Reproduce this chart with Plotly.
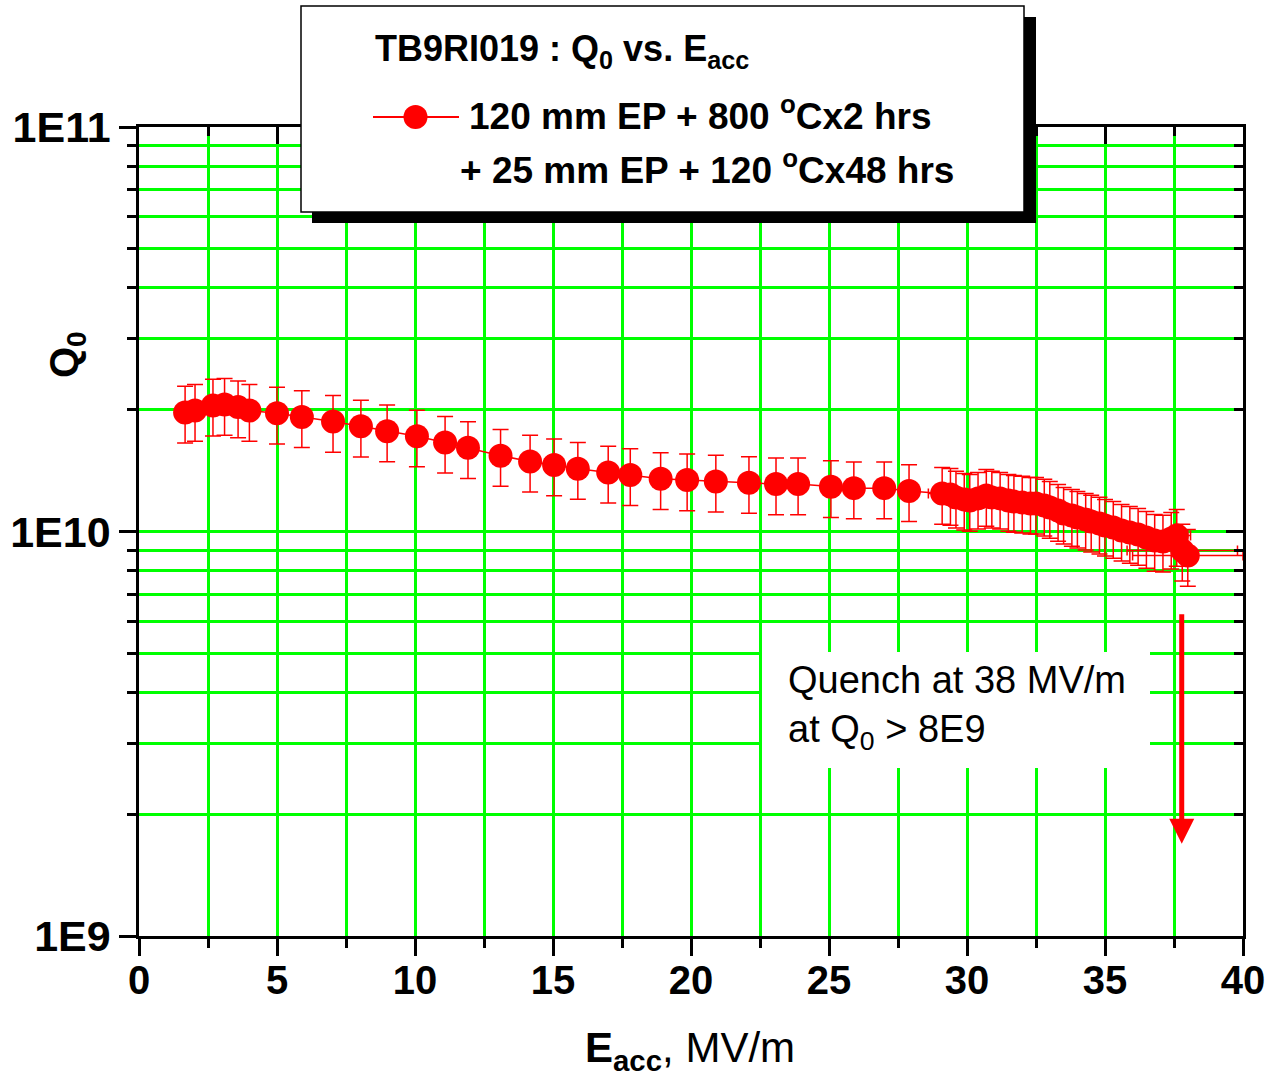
import math
import plotly.graph_objects as go

# ---- data ----
e_acc = [1.67, 2.03, 2.68, 3.10, 3.59, 4.00, 5.00, 5.90, 7.03, 8.04, 8.99, 10.07,
         11.09, 11.92, 13.10, 14.17, 15.04, 15.90, 17.00, 17.80, 18.90, 19.86,
         20.90, 22.10, 23.08, 23.88, 25.07, 25.90, 27.00, 27.90,
         29.1, 29.4, 29.6, 29.9, 30.1, 30.4, 30.7, 30.9, 31.2, 31.5, 31.7, 32.0,
         32.3, 32.5, 32.8, 33.0, 33.3, 33.5, 33.8, 34.0, 34.3, 34.5, 34.8, 35.0,
         35.3, 35.6, 35.9, 36.2, 36.5, 36.8, 37.1, 37.4, 37.6, 37.8, 38.0]
q0 = [1.97e10, 1.99e10, 2.05e10, 2.06e10, 2.03e10, 1.99e10, 1.96e10, 1.92e10,
      1.87e10, 1.82e10, 1.77e10, 1.72e10, 1.66e10, 1.61e10, 1.54e10, 1.49e10,
      1.46e10, 1.43e10, 1.40e10, 1.38e10, 1.35e10, 1.34e10, 1.33e10, 1.32e10,
      1.31e10, 1.31e10, 1.29e10, 1.28e10, 1.28e10, 1.26e10,
      1.241e10, 1.234e10, 1.214e10, 1.200e10, 1.193e10, 1.207e10, 1.227e10,
      1.214e10, 1.207e10, 1.193e10, 1.186e10, 1.180e10, 1.173e10, 1.173e10,
      1.160e10, 1.146e10, 1.127e10, 1.108e10, 1.095e10, 1.083e10, 1.071e10,
      1.059e10, 1.047e10, 1.035e10, 1.023e10, 1.006e10, 0.994e10, 0.983e10,
      0.966e10, 0.950e10, 0.945e10, 0.961e10, 0.977e10, 0.898e10, 0.872e10]
e_err = [0]*30 + [0.5]*33 + [2.0, 2.0]
q0_rel_err = 0.16

x_ticks = [0, 5, 10, 15, 20, 25, 30, 35, 40]
y_tickvals = [1e9, 1e10, 1e11]
y_ticktext = ["1E9", "1E10", "1E11"]
y_minor = [m * 10**d for d in (9, 10) for m in range(2, 10)]

quench_x = 37.78
quench_from = 6.3e9
quench_to = 1.69e9

FONT = "Liberation Sans"
GREEN = "#00ff00"
RED = "#ff0000"

W, H = 1272, 1083
L, R, T, B = 139, 29, 127, 147


def pxx(xp):
    return (xp - L) / (W - L - R)


def pxy(yp):
    return (H - B - yp) / (H - B - T)


q_err = [v * q0_rel_err for v in q0]

fig = go.Figure()
fig.add_trace(go.Scatter(
    x=e_acc, y=q0, mode="lines+markers",
    line=dict(color=RED, width=1.5),
    marker=dict(color=RED, size=24, line=dict(width=0)),
    error_y=dict(type="data", array=q_err, color=RED, thickness=1.5, width=8),
    error_x=dict(type="data", array=e_err, color=RED, thickness=1.5, width=5),
    showlegend=False,
))
fig.add_trace(go.Scatter(x=[], y=[], xaxis="x2", yaxis="y2", showlegend=False))

xtickfont = dict(family=FONT, size=40, color="black", weight="bold")
ytickfont = dict(family=FONT, size=43, color="black", weight="bold")

fig.update_layout(
    width=W, height=H,
    margin=dict(l=L, r=R, t=T, b=B, pad=0, autoexpand=False),
    paper_bgcolor="white", plot_bgcolor="white",
    font=dict(family=FONT, color="black"),
    showlegend=False,
    xaxis=dict(
        range=[0, 40], tickvals=x_ticks, ticks="outside", ticklen=17, tickwidth=2.5,
        tickcolor="black", showline=True, linecolor="black", linewidth=2.5,
        showgrid=True, gridcolor=GREEN, gridwidth=3, zeroline=False,
        tickfont=xtickfont, ticklabelstandoff=-10, automargin=False,
        minor=dict(dtick=2.5, tick0=0, ticks="outside", ticklen=9, tickwidth=2.5,
                   tickcolor="black", showgrid=True, gridcolor=GREEN, gridwidth=3),
    ),
    xaxis2=dict(
        overlaying="x", side="top", range=[0, 40], tickvals=x_ticks, ticks="inside",
        ticklen=17, tickwidth=2.5, tickcolor="black", showticklabels=False,
        showline=True, linecolor="black", linewidth=2.5, showgrid=False, zeroline=False,
        automargin=False,
        minor=dict(dtick=2.5, tick0=0, ticks="inside", ticklen=9, tickwidth=2.5,
                   tickcolor="black", showgrid=False),
    ),
    yaxis=dict(
        type="log", range=[9, 11], tickmode="array", tickvals=y_tickvals,
        ticktext=y_ticktext, ticks="outside", ticklen=17, tickwidth=2.5,
        tickcolor="black", showline=True, linecolor="black", linewidth=2.5,
        showgrid=True, gridcolor=GREEN, gridwidth=3, zeroline=False,
        tickfont=ytickfont, automargin=False,
        minor=dict(tickmode="array", tickvals=y_minor, ticks="outside", ticklen=9,
                   tickwidth=2.5, tickcolor="black", showgrid=True,
                   gridcolor=GREEN, gridwidth=3),
    ),
    yaxis2=dict(
        overlaying="y", side="right", type="log", range=[9, 11], tickmode="array",
        tickvals=y_tickvals, ticks="inside", ticklen=17, tickwidth=2.5,
        tickcolor="black", showticklabels=False, showline=True, linecolor="black",
        linewidth=2.5, showgrid=False, zeroline=False, automargin=False,
        minor=dict(tickmode="array", tickvals=y_minor, ticks="inside", ticklen=9,
                   tickwidth=2.5, tickcolor="black", showgrid=False),
    ),
)

shapes = []
# legend box with drop shadow
shapes.append(dict(type="rect", xref="paper", yref="paper", layer="above",
                   x0=pxx(312), x1=pxx(1036), y0=pxy(223), y1=pxy(17),
                   fillcolor="black", line=dict(width=0)))
shapes.append(dict(type="rect", xref="paper", yref="paper", layer="above",
                   x0=pxx(301), x1=pxx(1024), y0=pxy(212), y1=pxy(6),
                   fillcolor="white", line=dict(color="black", width=1.5)))
# legend symbol
shapes.append(dict(type="line", xref="paper", yref="paper", layer="above",
                   x0=pxx(373), x1=pxx(459), y0=pxy(117), y1=pxy(117),
                   line=dict(color=RED, width=2)))
shapes.append(dict(type="circle", xref="paper", yref="paper", layer="above",
                   x0=pxx(403.5), x1=pxx(427.5), y0=pxy(129), y1=pxy(105),
                   fillcolor=RED, line=dict(width=0)))
# white background behind quench note
shapes.append(dict(type="rect", xref="paper", yref="paper", layer="above",
                   x0=pxx(762), x1=pxx(1150), y0=pxy(768), y1=pxy(652),
                   fillcolor="white", line=dict(width=0)))
fig.update_layout(shapes=shapes)

ann = []
ann.append(dict(xref="paper", yref="paper", x=pxx(373), y=pxy(51), xanchor="left",
                yanchor="middle", showarrow=False,
                text="<b>TB9RI019 : Q<sub>0</sub> vs. E<sub>acc</sub></b>",
                font=dict(family=FONT, size=36, color="black")))
ann.append(dict(xref="paper", yref="paper", x=pxx(467), y=pxy(113), xanchor="left",
                yanchor="middle", showarrow=False,
                text="<b>120 mm EP + 800 <sup>o</sup>Cx2 hrs</b>",
                font=dict(family=FONT, size=37, color="black")))
ann.append(dict(xref="paper", yref="paper", x=pxx(458), y=pxy(168), xanchor="left",
                yanchor="middle", showarrow=False,
                text="<b>+ 25 mm EP + 120 <sup>o</sup>Cx48 hrs</b>",
                font=dict(family=FONT, size=37, color="black")))
ann.append(dict(xref="paper", yref="paper", x=pxx(786), y=pxy(708), xanchor="left",
                yanchor="middle", showarrow=False, align="left",
                text="Quench at 38 MV/m<br>at Q<sub>0</sub> > 8E9",
                font=dict(family=FONT, size=38, color="black")))
ann.append(dict(xref="paper", yref="paper", x=pxx(67), y=pxy(355), xanchor="center",
                yanchor="middle", showarrow=False, textangle=-90,
                text="<b>Q<sub>0</sub></b>",
                font=dict(family=FONT, size=40, color="black")))
ann.append(dict(xref="paper", yref="paper", x=pxx(690), y=pxy(1050), xanchor="center",
                yanchor="middle", showarrow=False,
                text="<b>E<sub>acc</sub></b>, MV/m",
                font=dict(family=FONT, size=42, color="black")))
ann.append(dict(xref="x", yref="y", axref="x", ayref="y",
                x=quench_x, y=math.log10(quench_to),
                ax=quench_x, ay=math.log10(quench_from),
                showarrow=True, arrowhead=2, arrowsize=1, arrowwidth=5,
                arrowcolor=RED, standoff=0, startstandoff=0, text=""))
fig.update_layout(annotations=ann)

fig.write_html("out.html")
